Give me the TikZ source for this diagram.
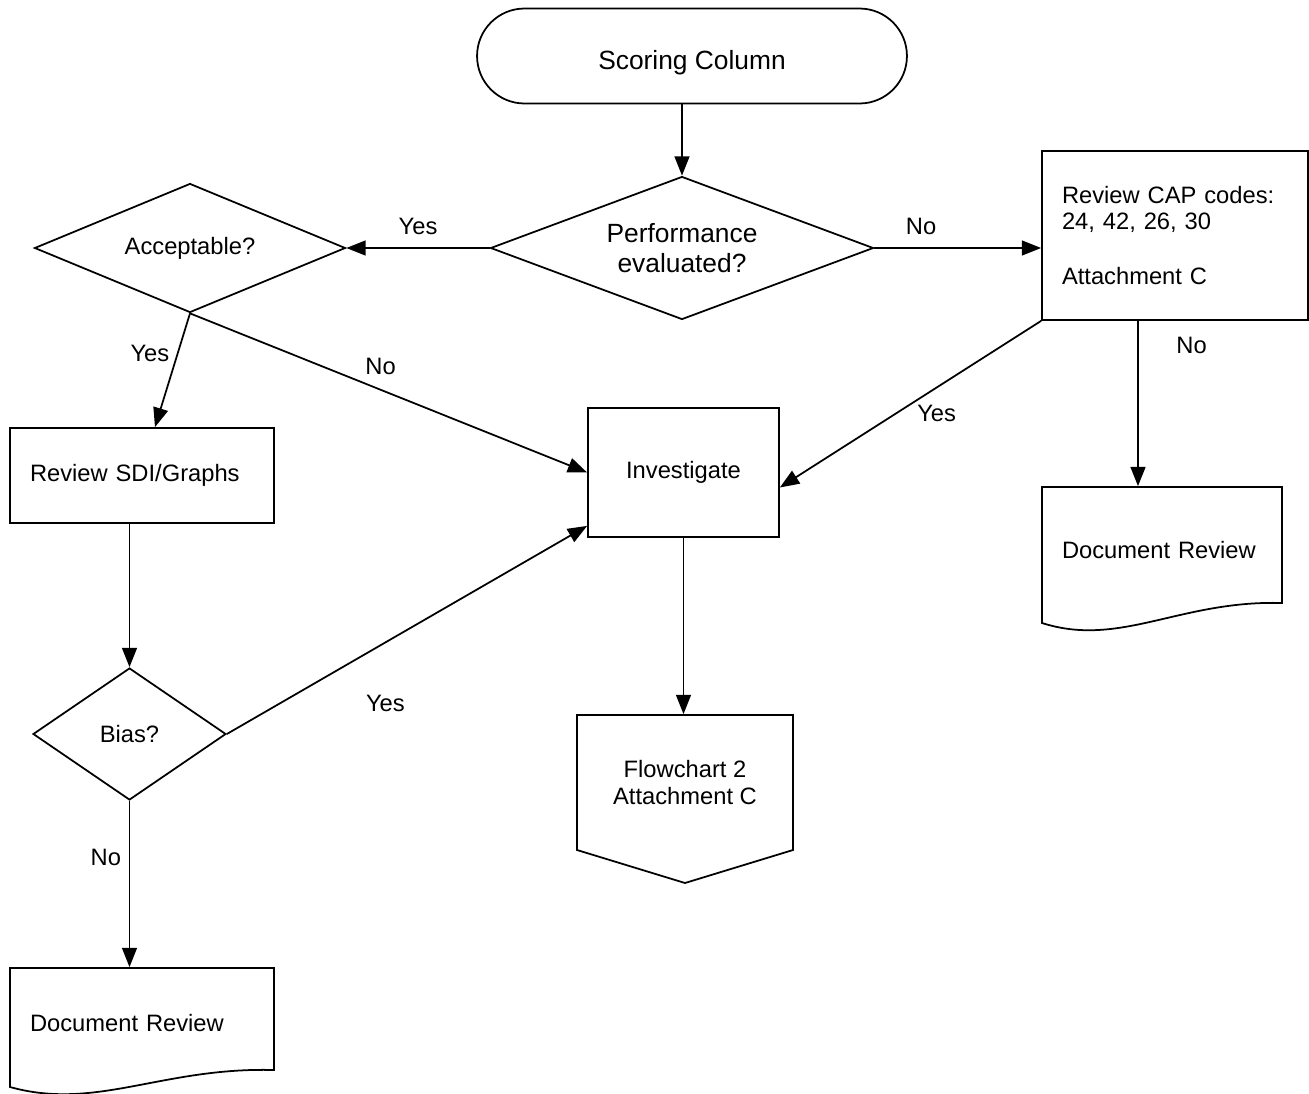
\documentclass[tikz,border=0pt]{standalone}
\usepackage{fontspec}
\setmainfont{Liberation Sans}
\usetikzlibrary{shapes.geometric, arrows.meta}

\begin{document}
\begin{tikzpicture}[x = 0.02cm, y = -0.02cm, line width = 1pt,
    font = \fontsize{13.5}{14.5}\selectfont]
  % styles
  \tikzstyle{terminal} = [draw, rectangle, rounded corners = 0.95cm]
  \tikzstyle{decision} = [draw, diamond, inner sep = 0pt, align = center]
  \tikzstyle{process} = [draw, rectangle]
  \tikzstyle{docshape} = [rectangle, align = left]
  \tikzstyle{offpage} = [rectangle, align = center]
  \tikzstyle{connector} = [-{Triangle[length = 11pt, width = 8.5pt]}]
  \tikzstyle{answer} = []
  \tikzstyle{bigger} = [font = \fontsize{15}{17}\selectfont]

  \useasboundingbox (0, 0) rectangle (1309, 1093);

  % top row
  \node[terminal, bigger, minimum width = 8.6cm, minimum height = 1.9cm,
    text height = 18.8pt] (start) at (692, 56) {Scoring Column};
  \node[decision, bigger, aspect = 2.68, minimum width = 7.66cm,
    minimum height = 2.86cm] (perf) at (682, 248) {Performance\\evaluated?};
  \node[decision, aspect = 2.4, minimum width = 6.22cm, minimum height = 2.58cm]
    (accept) at (190, 248) {Acceptable?};
  \node[process, minimum width = 5.32cm, minimum height = 3.38cm,
    text width = 4.52cm, align = left] (cap) at (1175, 235.5)
    {Review CAP codes:\\24, 42, 26, 30\\[17pt]Attachment C};

  % middle row
  \node[process, minimum width = 5.28cm, minimum height = 1.9cm,
    text width = 4.48cm, align = left] (sdi) at (142, 475.5) {Review SDI/Graphs};
  \node[process, minimum width = 3.82cm, minimum height = 2.58cm] (inv)
    at (683.5, 472.5) {Investigate};
  \node[docshape, minimum width = 4.8cm, minimum height = 2.52cm,
    text width = 4cm] (docR) at (1162, 550) {Document Review};
  \draw (1042, 487) -- (1282, 487) -- (1282, 603) .. controls (1180, 600) and
    (1120, 648) .. (1042, 623) -- cycle;

  % bottom row
  \node[decision, aspect = 1.46, minimum width = 3.86cm, minimum height = 2.64cm]
    (bias) at (129.5, 734) {Bias?};
  \node[offpage, minimum width = 4.32cm, minimum height = 2.7cm,
    font = \fontsize{13.5}{15.5}\selectfont] (fc2) at (685, 782.5)
    {Flowchart 2\\Attachment C};
  \draw (577, 715) -- (793, 715) -- (793, 850) -- (685, 883) -- (577, 850) -- cycle;
  \node[docshape, minimum width = 5.28cm, minimum height = 2.2cm,
    text width = 4.48cm] (docL) at (142, 1023) {Document Review};
  \draw (10, 968) -- (274, 968) -- (274, 1070) .. controls (162, 1067) and
    (96, 1111) .. (10, 1087) -- cycle;

  % connectors
  \coordinate (capno) at ([xshift = -0.74cm]cap.south);
  \draw[connector] (start.south -| perf.north) -- (perf.north);
  \draw[connector] (perf.west) -- (accept.east)
    node[answer, midway, above = 4pt] {Yes};
  \draw[connector] (perf.east) -- (perf.east -| cap.west)
    node[answer, pos = 0.28, above = 4pt] {No};
  \draw[connector] (accept.south) -- ([xshift = 0.26cm]sdi.north)
    node[answer, pos = 0.35, left = 1pt] {Yes};
  \draw[connector] (accept.south) -- (inv.west)
    node[answer, pos = 0.48, above = 5pt] {No};
  \draw[connector] (cap.south west) -- ([yshift = -0.3cm]inv.east)
    node[answer, pos = 0.4, below = 6pt] {Yes};
  \draw[connector] (capno) -- (capno |- docR.north)
    node[answer, pos = 0.15, right = 18pt] {No};
  \draw[connector] (sdi.south -| bias.north) -- (bias.north);
  \draw[connector] (bias.east) -- ([yshift = 0.24cm]inv.south west)
    node[answer, pos = 0.44, below = 26pt] {Yes};
  \draw[connector] (bias.south) -- (bias.south |- docL.north)
    node[answer, pos = 0.34, left = 1pt] {No};
  \draw[connector] (inv.south) -- (inv.south |- fc2.north);

\end{tikzpicture}
\end{document}
